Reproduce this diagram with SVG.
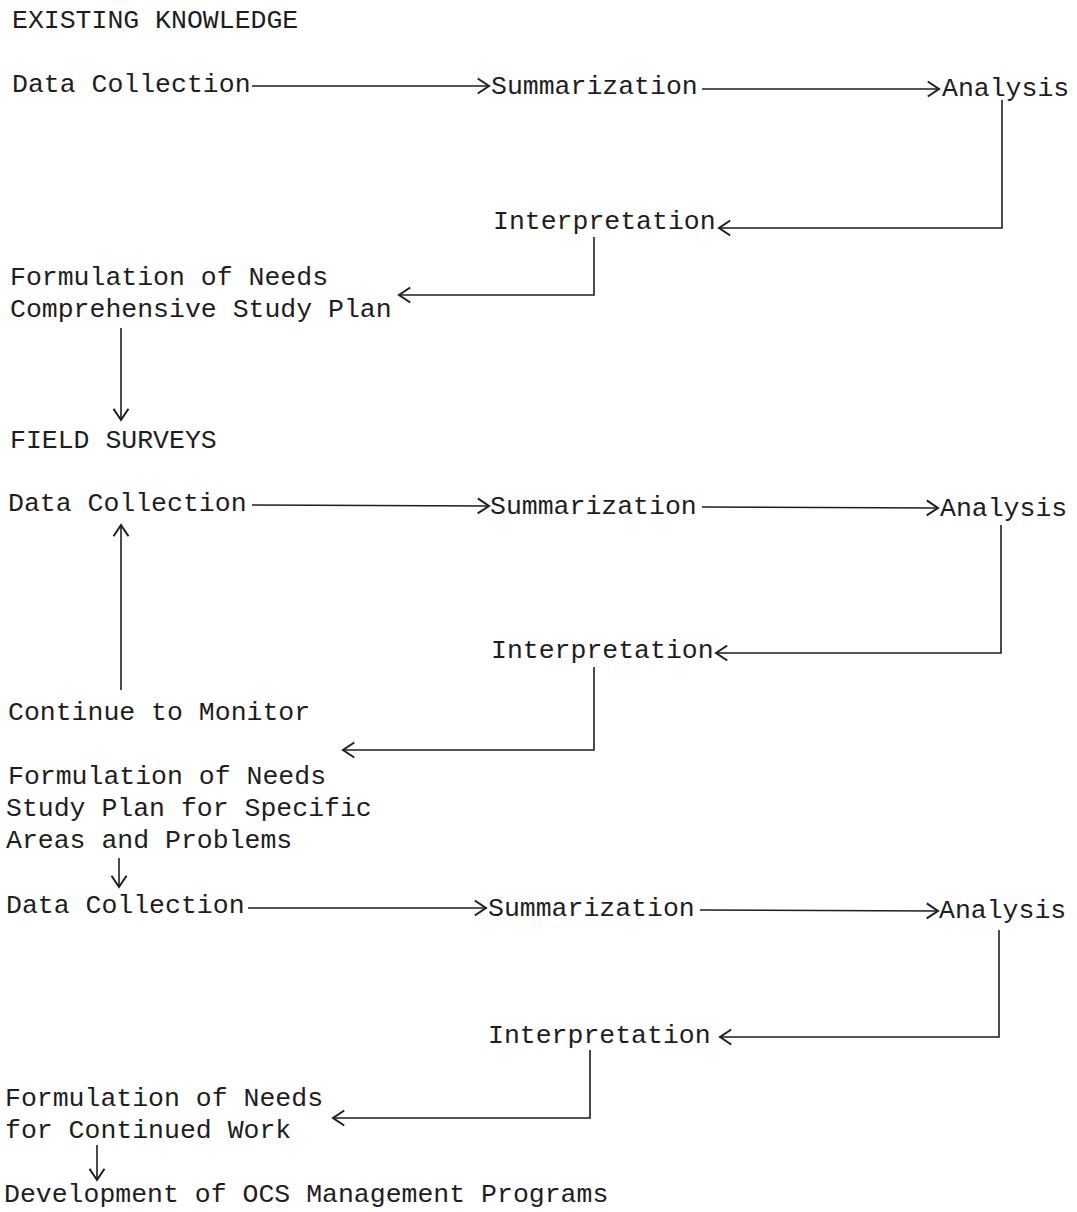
<svg xmlns="http://www.w3.org/2000/svg" width="1077" height="1212" viewBox="0 0 1077 1212">
<defs>
<style>
text { font-family: "Liberation Mono", "Courier New", monospace; font-size: 26.5px; fill: #1e1e1e; }
.c { fill: none; stroke: #1e1e1e; stroke-width: 1.6; }
</style>
<marker id="ah" markerUnits="userSpaceOnUse" markerWidth="20" markerHeight="20" viewBox="-12 -8 14 16" refX="0" refY="0" orient="auto">
<path d="M-9,-6 L0,0 L-9,6" fill="none" stroke="#1e1e1e" stroke-width="1.6"/>
</marker>
</defs>
<rect width="1077" height="1212" fill="#ffffff"/>
<g id="connectors">
<path class="c" marker-end="url(#ah)" d="M252,86 L489,86"/>
<path class="c" marker-end="url(#ah)" d="M702,89 L939,89"/>
<path class="c" marker-end="url(#ah)" d="M1002,100 V228 H719"/>
<path class="c" marker-end="url(#ah)" d="M594,237 V295 H399"/>
<path class="c" marker-end="url(#ah)" d="M121,328 V420"/>
<path class="c" marker-end="url(#ah)" d="M252,505 L489,506"/>
<path class="c" marker-end="url(#ah)" d="M702,507 L938,508"/>
<path class="c" marker-end="url(#ah)" d="M1001,525 V653 H716"/>
<path class="c" marker-end="url(#ah)" d="M594,667 V750 H343"/>
<path class="c" marker-end="url(#ah)" d="M121,690 V525"/>
<path class="c" marker-end="url(#ah)" d="M119,858 V887"/>
<path class="c" marker-end="url(#ah)" d="M248,908 L486,908"/>
<path class="c" marker-end="url(#ah)" d="M700,910 L938,911"/>
<path class="c" marker-end="url(#ah)" d="M999,930 V1037 H720"/>
<path class="c" marker-end="url(#ah)" d="M590,1050 V1118 H333"/>
<path class="c" marker-end="url(#ah)" d="M97,1145 V1180"/>
</g>
<g id="existing-knowledge"><text x="12" y="28">EXISTING KNOWLEDGE</text></g>
<g id="data-collection-1"><text x="12" y="92">Data Collection</text></g>
<g id="summarization-1"><text x="491" y="94">Summarization</text></g>
<g id="analysis-1"><text x="942" y="96">Analysis</text></g>
<g id="interpretation-1"><text x="493" y="229">Interpretation</text></g>
<g id="formulation-1"><text x="10" y="285">Formulation of Needs</text><text x="10" y="317">Comprehensive Study Plan</text></g>
<g id="field-surveys"><text x="10" y="448">FIELD SURVEYS</text></g>
<g id="data-collection-2"><text x="8" y="511">Data Collection</text></g>
<g id="summarization-2"><text x="490" y="514">Summarization</text></g>
<g id="analysis-2"><text x="940" y="516">Analysis</text></g>
<g id="interpretation-2"><text x="491" y="658">Interpretation</text></g>
<g id="continue-to-monitor"><text x="8" y="720">Continue to Monitor</text></g>
<g id="formulation-2"><text x="8" y="784">Formulation of Needs</text><text x="6" y="816">Study Plan for Specific</text><text x="6" y="848">Areas and Problems</text></g>
<g id="data-collection-3"><text x="6" y="913">Data Collection</text></g>
<g id="summarization-3"><text x="488" y="916">Summarization</text></g>
<g id="analysis-3"><text x="939" y="918">Analysis</text></g>
<g id="interpretation-3"><text x="488" y="1043">Interpretation</text></g>
<g id="formulation-3"><text x="5" y="1106">Formulation of Needs</text><text x="5" y="1138">for Continued Work</text></g>
<g id="development"><text x="4" y="1202">Development of OCS Management Programs</text></g>
</svg>
